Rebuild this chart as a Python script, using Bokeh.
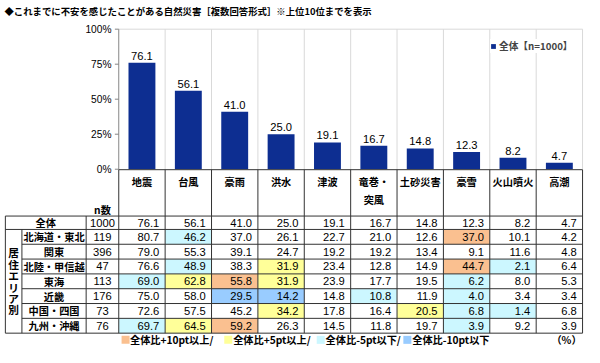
from bokeh.plotting import figure
from bokeh.models import Range1d
from bokeh.core.properties import value
from bokeh.embed import file_html
from bokeh.resources import INLINE

# ---------------- data ----------------
title_text = "◆これまでに不安を感じたことがある自然災害［複数回答形式］※上位10位までを表示"
categories = ["地震", "台風", "豪雨", "洪水", "津波", "竜巻・\n突風", "土砂災害", "豪雪", "火山噴火", "高潮"]
total_label = "全体"
total_n = 1000
total_values = [76.1, 56.1, 41.0, 25.0, 19.1, 16.7, 14.8, 12.3, 8.2, 4.7]
series_label = "全体【n=1000】"

region_names = ["北海道・東北", "関東", "北陸・甲信越", "東海", "近畿", "中国・四国", "九州・沖縄"]
region_n = [119, 396, 47, 113, 176, 73, 76]
hokkaido_tohoku = [80.7, 46.2, 37.0, 26.1, 22.7, 21.0, 12.6, 37.0, 10.1, 4.2]
kanto = [79.0, 55.3, 39.1, 24.7, 19.2, 19.2, 13.4, 9.1, 11.6, 4.8]
hokuriku_koshinetsu = [76.6, 48.9, 38.3, 31.9, 23.4, 12.8, 14.9, 44.7, 2.1, 6.4]
tokai = [69.0, 62.8, 55.8, 31.9, 23.9, 17.7, 19.5, 6.2, 8.0, 5.3]
kinki = [75.0, 58.0, 29.5, 14.2, 14.8, 10.8, 11.9, 4.0, 3.4, 3.4]
chugoku_shikoku = [72.6, 57.5, 45.2, 34.2, 17.8, 16.4, 20.5, 6.8, 1.4, 6.8]
kyushu_okinawa = [69.7, 64.5, 59.2, 26.3, 14.5, 11.8, 19.7, 3.9, 9.2, 3.9]
region_values = [hokkaido_tohoku, kanto, hokuriku_koshinetsu, tokai, kinki, chugoku_shikoku, kyushu_okinawa]

group_label = "居住エリア別"
n_header = "n数"
y_ticks = [0, 25, 50, 75, 100]
key_labels = ["全体比+10pt以上/", "全体比+5pt以上/", "全体比-5pt以下/", "全体比-10pt以下"]
unit_label = "（%）"

# ---------------- styles / layout (reference pixel space 600x363) ----------------
BAR = "#0D2E91"
C_P10, C_P5, C_M5, C_M10 = "#FAC090", "#FFFF99", "#CCF7FF", "#99CCFF"
key_colors = [C_P10, C_P5, C_M5, C_M10]
CJK = "Noto Sans CJK JP"
NUM = "Liberation Sans"
LINE = "#333333"
GRID = "#D9D9D9"

REF_W, REF_H = 600, 363
W, H = 584, 347
COL0, CW = 121.5, 47.65
ZERO_Y, PX_PER_PCT = 176.5, 1.465
FS = 0.97


def X(px):
    return (px - COL0) / CW


def Y(py):
    return (ZERO_Y - py) / PX_PER_PCT


def fs(px):
    return f"{px * FS:.1f}px"


p = figure(width=W, height=H, x_range=Range1d(X(0), X(REF_W)), y_range=Range1d(Y(REF_H), Y(0)),
           output_backend="svg", toolbar_location=None, x_axis_location=None, y_axis_location=None,
           min_border=0, outline_line_color=None, background_fill_color="white",
           border_fill_color="white")
p.xgrid.visible = False
p.ygrid.visible = False

ncol = len(categories)

# title
p.text(x=[X(4)], y=[Y(11)], text=[title_text], text_font=value(CJK), text_font_style="bold",
       text_font_size=fs(9.7), text_baseline="middle", text_align="left", text_color="#000000")

# chart grid
p.segment(x0=list(range(1, ncol + 1)), y0=[0] * ncol, x1=list(range(1, ncol + 1)), y1=[100] * ncol,
          line_color=GRID, line_width=1)
p.segment(x0=[0], y0=[100], x1=[ncol], y1=[100], line_color=GRID, line_width=1)
# y axis
p.segment(x0=[0], y0=[0], x1=[0], y1=[100], line_color="#868686", line_width=1)
p.segment(x0=[X(COL0 - 4)] * len(y_ticks), y0=y_ticks, x1=[0] * len(y_ticks), y1=y_ticks,
          line_color="#868686", line_width=1)
p.text(x=[X(114)] * len(y_ticks), y=y_ticks, text=[f"{t}%" for t in y_ticks], text_align="right",
       text_baseline="middle", text_font=value(NUM), text_font_size=fs(10.5), text_color="#000000")

# bars
xs = [i + 0.5 for i in range(ncol)]
p.vbar(x=xs, top=total_values, width=0.58, fill_color=BAR, line_color=None, legend_label=series_label)
p.text(x=xs, y=total_values, text=[f"{v:.1f}" for v in total_values], text_align="center",
       text_baseline="bottom", y_offset=-3, text_font=value(NUM), text_font_size=fs(11.5),
       text_color="#000000")

p.legend.location = (490, int(H - 55 * H / REF_H))
p.legend.glyph_width = 6
p.legend.glyph_height = 6
p.legend.label_height = 10
p.legend.label_standoff = 3
p.legend.padding = 4
p.legend.margin = 0
p.legend.spacing = 0
p.legend.border_line_color = None
p.legend.background_fill_color = "white"
p.legend.background_fill_alpha = 1.0
p.legend.label_text_font = CJK
p.legend.label_text_font_style = "bold"
p.legend.label_text_font_size = fs(10)

# ---------------- table ----------------
HEAD_TOP = 177.0
TOT_TOP, TOT_BOT = 225.5, 239.5
ROW_H = 15.5
TAB_L, GRP_R, LBL_R = 5.0, 22.0, 88.0
TAB_R = COL0 + ncol * CW
nreg = len(region_names)
row_tops = [TOT_BOT + r * ROW_H for r in range(nreg)]
TAB_B = TOT_BOT + nreg * ROW_H


def cell_color(v, t):
    d = round(v - t, 1)
    if d >= 10:
        return C_P10
    if d >= 5:
        return C_P5
    if d <= -10:
        return C_M10
    if d <= -5:
        return C_M5
    return None


ql, qr, qt, qb, qc = [], [], [], [], []
for r, vals in enumerate(region_values):
    for c, v in enumerate(vals):
        col = cell_color(v, total_values[c])
        if col:
            ql.append(c)
            qr.append(c + 1)
            qt.append(Y(row_tops[r]))
            qb.append(Y(row_tops[r] + ROW_H))
            qc.append(col)
p.quad(left=ql, right=qr, top=qt, bottom=qb, fill_color=qc, line_color=None)

# table lines
hx0, hy0, hx1, hy1 = [], [], [], []
def hline(x0, x1, y):
    hx0.append(X(x0)); hx1.append(X(x1)); hy0.append(Y(y)); hy1.append(Y(y))
def vline(x, y0, y1):
    hx0.append(X(x)); hx1.append(X(x)); hy0.append(Y(y0)); hy1.append(Y(y1))

hline(COL0, TAB_R, HEAD_TOP)
hline(TAB_L, TAB_R, TOT_TOP)
hline(TAB_L, TAB_R, TOT_BOT)
for r in range(1, nreg):
    hline(GRP_R, TAB_R, row_tops[r])
hline(TAB_L, TAB_R, TAB_B)
vline(TAB_L, TOT_TOP, TAB_B)
vline(GRP_R, TOT_BOT, TAB_B)
vline(LBL_R, TOT_TOP, TAB_B)
for c in range(ncol + 1):
    vline(COL0 + c * CW, HEAD_TOP, TAB_B)
p.segment(x0=hx0, y0=hy0, x1=hx1, y1=hy1, line_color=LINE, line_width=1)

# header texts
p.text(x=xs, y=[Y(181.5)] * ncol, text=categories, text_align="center", text_baseline="top",
       text_font=value(CJK), text_font_style="bold", text_font_size=fs(10.5),
       text_line_height=1.2, text_color="#000000")
p.text(x=[X((LBL_R + COL0) / 2)], y=[Y(218.5)], text=[n_header], text_align="center",
       text_baseline="middle", text_font=value(CJK), text_font_style="bold",
       text_font_size=fs(10.5), text_color="#000000")

# total row
tot_mid = Y((TOT_TOP + TOT_BOT) / 2)
p.text(x=[X((TAB_L + LBL_R) / 2)], y=[tot_mid], text=[total_label], text_align="center",
       text_baseline="middle", text_font=value(CJK), text_font_style="bold",
       text_font_size=fs(10.5), text_color="#000000")
p.text(x=[X((LBL_R + COL0) / 2)], y=[tot_mid], text=[str(total_n)], text_align="center",
       text_baseline="middle", text_font=value(NUM), text_font_size=fs(11.5), text_color="#000000")
PAD = 6.0 / CW
p.text(x=[c + 1 - PAD for c in range(ncol)], y=[tot_mid] * ncol,
       text=[f"{v:.1f}" for v in total_values], text_align="right", text_baseline="middle",
       text_font=value(NUM), text_font_size=fs(11.5), text_color="#000000")

# region rows
mids = [Y(t + ROW_H / 2) for t in row_tops]
p.text(x=[X((GRP_R + LBL_R) / 2)] * nreg, y=mids, text=region_names, text_align="center",
       text_baseline="middle", text_font=value(CJK), text_font_style="bold",
       text_font_size=fs(10.5), text_color="#000000")
p.text(x=[X((LBL_R + COL0) / 2)] * nreg, y=mids, text=[str(n) for n in region_n],
       text_align="center", text_baseline="middle", text_font=value(NUM),
       text_font_size=fs(11.5), text_color="#000000")
vx, vy, vt = [], [], []
for r, vals in enumerate(region_values):
    for c, v in enumerate(vals):
        vx.append(c + 1 - PAD)
        vy.append(mids[r])
        vt.append(f"{v:.1f}")
p.text(x=vx, y=vy, text=vt, text_align="right", text_baseline="middle", text_font=value(NUM),
       text_font_size=fs(11.5), text_color="#000000")

# vertical group label
chars = list(group_label)
gmid = (TOT_BOT + TAB_B) / 2
gstep = 12.0
p.text(x=[X((TAB_L + GRP_R) / 2)] * len(chars),
       y=[Y(gmid + (k - (len(chars) - 1) / 2) * gstep) for k in range(len(chars))],
       text=chars, text_align="center", text_baseline="middle", text_font=value(CJK),
       text_font_style="bold", text_font_size=fs(11), text_color="#000000")

# bottom key
key_sq_x = [128.5, 234.0, 329.0, 418.0]
key_tx_x = [133.0, 239.0, 334.0, 423.0]
KEY_Y = 355.0
p.scatter(x=[X(v) for v in key_sq_x], y=[Y(KEY_Y)] * 4, marker="square", size=8,
          fill_color=key_colors, line_color=None)
p.text(x=[X(v) for v in key_tx_x], y=[Y(KEY_Y)] * 4, text=key_labels, text_align="left",
       text_baseline="middle", text_font=value(CJK), text_font_style="bold",
       text_font_size=fs(10.5), text_color="#000000")
p.text(x=[X(597)], y=[Y(KEY_Y)], text=[unit_label], text_align="right", text_baseline="middle",
       text_font=value(CJK), text_font_style="bold", text_font_size=fs(10.5), text_color="#000000")

open("out.html", "w").write(file_html(p, INLINE))
